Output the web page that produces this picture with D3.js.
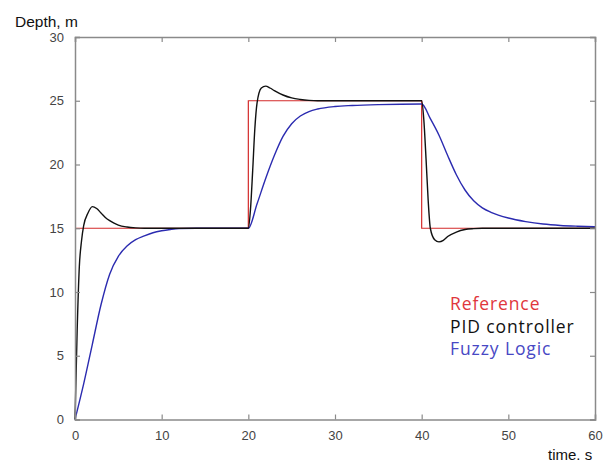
<!DOCTYPE html>
<html><head><meta charset="utf-8">
<script src="https://cdn.jsdelivr.net/npm/d3@7"></script>
<style>body{margin:0;background:#fff}svg{display:block}</style>
</head><body>
<svg id="c" width="609" height="464"></svg>
<script>
const xTicks = [0,10,20,30,40,50,60];
const yTicks = [0,5,10,15,20,25,30];
const refT = [0,20,20,40,40,60];
const refV = [15,15,25,25,15,15];
const pidT = [0,0.25,0.5,0.75,1.0,1.5,2.0,2.5,3,3.5,4,4.5,5,6,7,8,20,20.25,20.5,20.75,21,21.5,22,22.5,23,24,25,26,27,28,40,40.25,40.5,40.75,41,41.5,42,42.5,43,44,45,46,47,60];
const pidV = [0,7,12,14,15.2,16.2,16.7,16.55,16.2,15.85,15.6,15.4,15.25,15.1,15.03,15,15,16.5,19.5,22.8,24.8,26.0,26.15,26.0,25.8,25.45,25.22,25.1,25.03,25,25,23.5,20.5,17.2,15.0,14.1,13.93,14.05,14.35,14.7,14.9,14.97,15,15];
const fuzT = [0,1,2,3,4,5,6,7,8,9,10,11,12,14,20,21,22,23,24,25,26,27,28,30,32,35,40,41,42,43,44,45,46,47,48,50,52,54,56,58,60];
const fuzV = [0,2.8,5.9,9.0,11.4,12.8,13.6,14.1,14.4,14.65,14.8,14.9,14.97,15,15,16.9,18.9,20.7,22.2,23.2,23.8,24.15,24.35,24.55,24.63,24.7,24.75,23.6,22.3,20.7,19.2,18.0,17.15,16.6,16.25,15.8,15.52,15.33,15.22,15.16,15.12];
const legendLabels = ["Reference","PID controller","Fuzzy Logic"];

const svg = d3.select("#c");
const L=75, R=595, T=37, B=419.5;
const x = d3.scaleLinear().domain([0,60]).range([L,R]);
const y = d3.scaleLinear().domain([0,30]).range([B,T]);
const axisCol="#8a8a8a", font="'Liberation Sans', Arial, sans-serif";

const line = (ts,vs,curve)=>d3.line().x(d=>x(d[0])).y(d=>y(d[1])).curve(curve)(ts.map((t,i)=>[t,vs[i]]));

svg.append("path").attr("d",line(refT,refV,d3.curveLinear)).attr("fill","none").attr("stroke","#d42a2a").attr("stroke-width",1.2);
svg.append("path").attr("d",line(fuzT,fuzV,d3.curveMonotoneX)).attr("fill","none").attr("stroke","#2b2bb0").attr("stroke-width",1.4);
svg.append("path").attr("d",line(pidT,pidV,d3.curveMonotoneX)).attr("fill","none").attr("stroke","#111").attr("stroke-width",1.4);

const gb = svg.append("g").attr("transform",`translate(0,${B})`).call(d3.axisBottom(x).tickValues(xTicks).tickSize(-5).tickPadding(11));
const gt = svg.append("g").attr("transform",`translate(0,${T})`).call(d3.axisTop(x).tickValues(xTicks).tickSize(-5).tickFormat(""));
const gl = svg.append("g").attr("transform",`translate(${L},0)`).call(d3.axisLeft(y).tickValues(yTicks).tickSize(-5).tickPadding(11));
const gr = svg.append("g").attr("transform",`translate(${R},0)`).call(d3.axisRight(y).tickValues(yTicks).tickSize(-5).tickFormat(""));
[gb,gt,gl,gr].forEach(g=>{
  g.select(".domain").attr("stroke",axisCol).attr("stroke-width",1.5);
  g.selectAll(".tick line").attr("stroke",axisCol).attr("stroke-width",1.2);
  g.selectAll(".tick text").attr("fill","#444").style("font-family",font).style("font-size","13px");
});

svg.append("text").attr("x",15).attr("y",27).text("Depth, m").style("font-family",font).style("font-size","15.5px").attr("fill","#111");
svg.append("text").attr("x",548).attr("y",460).text("time. s").style("font-family",font).style("font-size","15px").attr("fill","#111");

const legCols=["#e0363c","#111","#4848c4"];
legendLabels.forEach((s,i)=>{
  svg.append("text").attr("x",450).attr("y",310+i*22.5).text(s).attr("fill",legCols[i])
    .style("font-family","'Open Sans', sans-serif").style("font-size","17.5px").style("letter-spacing","0.9px");
});
</script>
</body></html>
